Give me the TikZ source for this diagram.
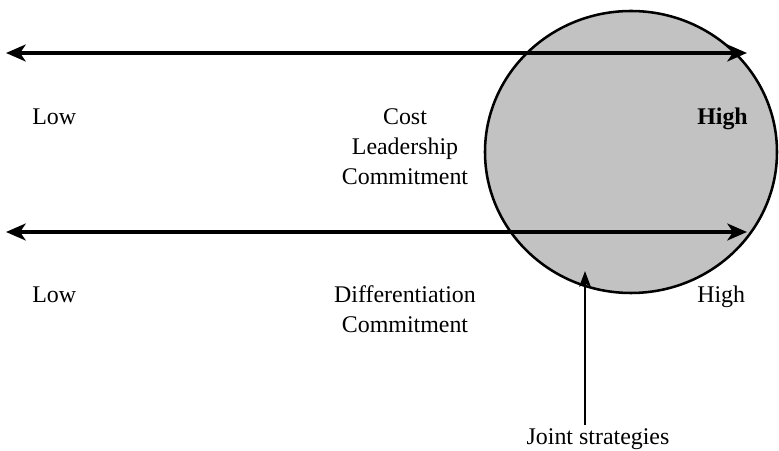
\documentclass[tikz,border=0pt]{standalone}
\usepackage{fontspec}
\setmainfont{Liberation Serif}
\usetikzlibrary{arrows.meta}
\definecolor{jointgray}{HTML}{C2C2C2}

\begin{document}
\begin{tikzpicture}[x=0.025cm, y=-0.025cm, every node/.style={font=\fontsize{17}{21.5}\selectfont, inner sep=0pt},
  axis/.style={line width=3.4pt, {Stealth[length=14pt,width=12pt,inset=4pt]}-{Stealth[length=14pt,width=12pt,inset=4pt]}},
  pointer/.style={line width=1.8pt, -{Stealth[length=11pt,width=8pt,inset=2pt]}}]
  \useasboundingbox (0,0) rectangle (779,451);
  % joint region
  \draw[fill=jointgray, draw=black, line width=1.8pt] (631,152) ellipse [x radius=146, y radius=141];
  % commitment scales
  \coordinate (lowA) at (6,53);
  \coordinate (highA) at (747,53);
  \coordinate (lowB) at (6,232);
  \coordinate (highB) at (747,232);
  \draw[axis] (lowA) -- (highA);
  \draw[axis] (lowB) -- (highB);
  \node[anchor=base west] (lowcost) at (32,125) {Low};
  \node[anchor=base, align=center] (cost) at (405,185) {Cost\\Leadership\\Commitment};
  \node[anchor=base west] (highcost) at (697,125) {\bfseries High};
  \node[anchor=base west] (lowdiff) at (32,303) {Low};
  \node[anchor=base, align=center] (diff) at (405,333) {Differentiation\\Commitment};
  \node[anchor=base west] (highdiff) at (697,303) {High};
  % joint strategies
  \node[anchor=base, inner sep=3pt] (joint) at (598,445) {Joint strategies};
  \coordinate (jtip) at (585,271);
  \draw[pointer] (joint.north -| jtip) -- (jtip);
\end{tikzpicture}
\end{document}
